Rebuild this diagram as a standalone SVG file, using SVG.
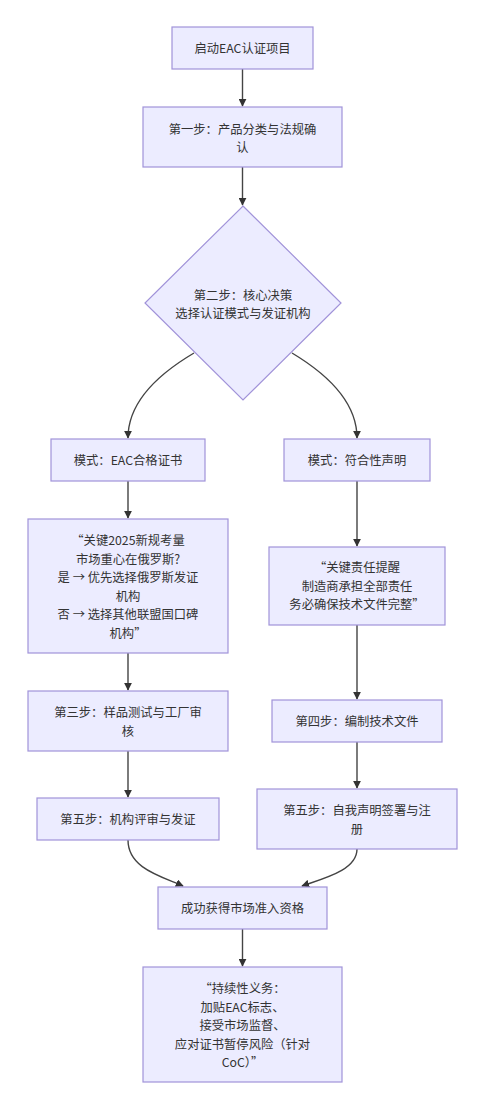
<svg xmlns="http://www.w3.org/2000/svg" width="485" height="1111" viewBox="0 0 485 1111">
<style>
.n{fill:#ECECFF;stroke:#a193d9;stroke-width:1.2}
.t{font-family:"Noto Sans CJK SC","Liberation Sans",sans-serif;font-size:12.3px;fill:#333;text-anchor:middle;dominant-baseline:central}
.e{fill:none;stroke:#444;stroke-width:1.4;marker-end:url(#a)}
</style>
<defs>
<marker id="a" viewBox="0 0 10 10" refX="9" refY="5" markerWidth="8" markerHeight="8" markerUnits="userSpaceOnUse" orient="auto">
<path d="M0,0L10,5L0,10z" fill="#333"/>
</marker>
</defs>
<rect width="485" height="1111" fill="#fff"/>
<g id="edges">
<path class="e" d="M242.5,69V106"/>
<path class="e" d="M242.5,167V205"/>
<path class="e" d="M194,353Q128,392 128,438"/>
<path class="e" d="M292,353Q357,392 357,438"/>
<path class="e" d="M128,481V518"/>
<path class="e" d="M357,481V546"/>
<path class="e" d="M128,653V690"/>
<path class="e" d="M357,625V699"/>
<path class="e" d="M128,751V797"/>
<path class="e" d="M357,742V788"/>
<path class="e" d="M128,840C128,868 160,876 183,886"/>
<path class="e" d="M357,849C357,870 325,878 302,886"/>
<path class="e" d="M242.5,929V966"/>
</g>
<g id="start"><rect class="n" x="172" y="27" width="141" height="42"/><text class="t" x="242.5" y="48">启动EAC认证项目</text></g>
<g id="step1"><rect class="n" x="143" y="107" width="199" height="60"/><text class="t" x="242.5" y="128.5">第一步：产品分类与法规确</text><text class="t" x="242.5" y="146.5">认</text></g>
<g id="decision"><polygon class="n" points="243,206 341,303 243,400 145,303"/><text class="t" x="243" y="294.5">第二步：核心决策</text><text class="t" x="243" y="312.5">选择认证模式与发证机构</text></g>
<g id="modeA"><rect class="n" x="51" y="439" width="154" height="42"/><text class="t" x="128" y="460">模式：EAC合格证书</text></g>
<g id="modeB"><rect class="n" x="284" y="439" width="146" height="42"/><text class="t" x="357" y="460">模式：符合性声明</text></g>
<g id="noteA"><rect class="n" x="28" y="519" width="200" height="134"/>
<text class="t" x="128" y="540">“关键2025新规考量</text>
<text class="t" x="128" y="558.5">市场重心在俄罗斯?</text>
<text class="t" x="128" y="577">是 → 优先选择俄罗斯发证</text>
<text class="t" x="128" y="595.5">机构</text>
<text class="t" x="128" y="614">否 → 选择其他联盟国口碑</text>
<text class="t" x="128" y="632.5">机构”</text></g>
<g id="noteB"><rect class="n" x="269" y="547" width="176" height="78"/>
<text class="t" x="357" y="567">“关键责任提醒</text>
<text class="t" x="357" y="585.5">制造商承担全部责任</text>
<text class="t" x="357" y="604">务必确保技术文件完整”</text></g>
<g id="step3"><rect class="n" x="28" y="691" width="200" height="60"/><text class="t" x="128" y="712">第三步：样品测试与工厂审</text><text class="t" x="128" y="730.5">核</text></g>
<g id="step4"><rect class="n" x="272" y="700" width="170" height="42"/><text class="t" x="357" y="721">第四步：编制技术文件</text></g>
<g id="step5a"><rect class="n" x="37" y="798" width="182" height="42"/><text class="t" x="128" y="819">第五步：机构评审与发证</text></g>
<g id="step5b"><rect class="n" x="257" y="789" width="200" height="60"/><text class="t" x="357" y="810">第五步：自我声明签署与注</text><text class="t" x="357" y="828.5">册</text></g>
<g id="success"><rect class="n" x="158" y="887" width="169" height="42"/><text class="t" x="242.5" y="908">成功获得市场准入资格</text></g>
<g id="duty"><rect class="n" x="143" y="967" width="199" height="115"/>
<text class="t" x="242.5" y="988">“持续性义务：</text>
<text class="t" x="242.5" y="1006.5">加贴EAC标志、</text>
<text class="t" x="242.5" y="1025">接受市场监督、</text>
<text class="t" x="242.5" y="1043.5">应对证书暂停风险（针对</text>
<text class="t" x="242.5" y="1062">CoC）”</text></g>
</svg>
